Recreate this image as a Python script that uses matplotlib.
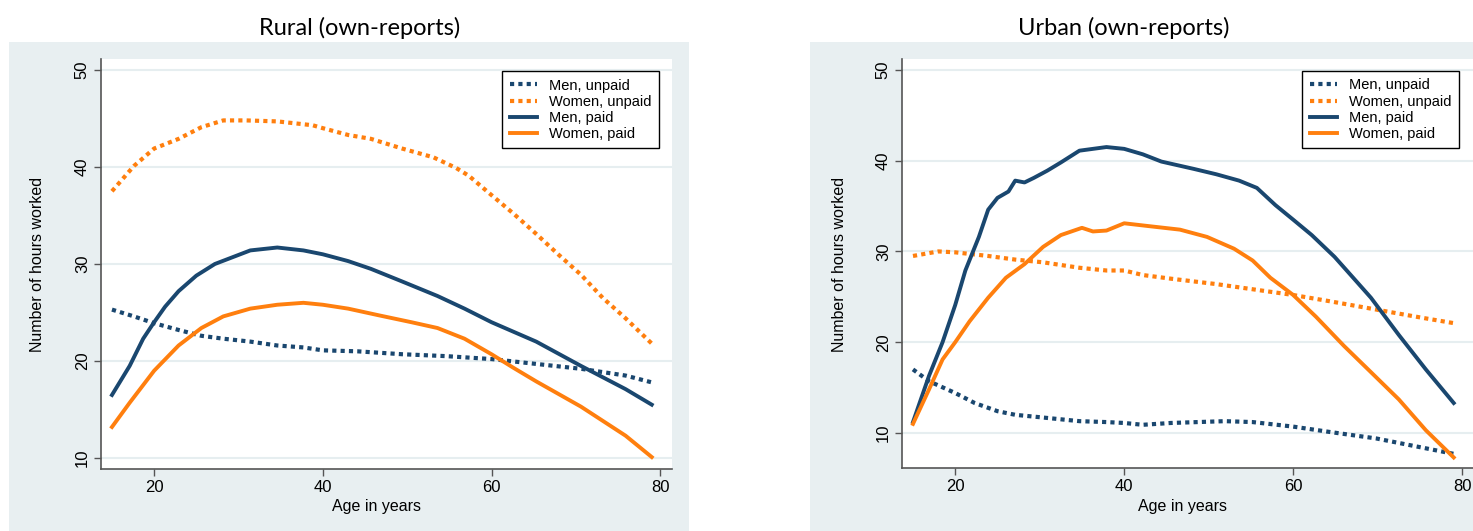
import matplotlib.pyplot as plt
from matplotlib.patches import Rectangle

# colours (Stata s2color look)
navy = '#1a476f'
orange = '#ff7f0e'
panel_bg = '#e8eff1'
grid_col = '#e6eef0'

# ---- Rural (own-reports) ----
rural_age_mu = [15, 17.6, 20, 22.9, 25.6, 28.2, 31.4, 34.6, 37.7, 40, 44.1, 49.4, 54.7, 60, 65.3, 70.6, 75.9, 79]
rural_men_unpaid = [25.3, 24.6, 23.9, 23.2, 22.6, 22.3, 22.0, 21.6, 21.4, 21.1, 21.0, 20.7, 20.5, 20.2, 19.7, 19.2, 18.5, 17.8]

rural_age_wu = [15, 17.6, 20, 22.9, 25.6, 28.2, 30.9, 34.6, 38.8, 40, 43, 45.7, 49.4, 53.1, 55.8, 57.3, 60, 62.6, 65.3, 67.9, 70.6, 73.2, 75.9, 79]
rural_women_unpaid = [37.5, 40.1, 41.9, 42.9, 44.1, 44.8, 44.8, 44.7, 44.3, 44.0, 43.3, 42.9, 41.9, 41.0, 39.9, 39.1, 37.1, 35.2, 33.1, 31.0, 28.9, 26.5, 24.4, 21.8]

rural_age_mp = [15, 17.1, 18.7, 20, 21.3, 22.9, 25, 27.2, 29.3, 31.4, 34.6, 37.7, 40, 43, 45.7, 49.4, 53.6, 56.8, 60, 65.3, 70.6, 75.9, 79]
rural_men_paid = [16.5, 19.5, 22.3, 24.0, 25.6, 27.2, 28.8, 30.0, 30.7, 31.4, 31.7, 31.4, 31.0, 30.3, 29.5, 28.2, 26.7, 25.4, 24.0, 22.0, 19.5, 17.1, 15.5]

rural_age_wp = [15, 17.1, 20, 22.9, 25.6, 28.2, 31.4, 34.6, 37.7, 40, 43, 46.7, 50.5, 53.6, 56.8, 60, 62.6, 65.3, 70.6, 75.9, 79]
rural_women_paid = [13.2, 15.7, 19.0, 21.6, 23.4, 24.6, 25.4, 25.8, 26.0, 25.8, 25.4, 24.7, 24.0, 23.4, 22.3, 20.7, 19.3, 17.9, 15.3, 12.3, 10.1]

# ---- Urban (own-reports) ----
urban_age_mu = [15, 16.9, 20, 22.3, 25, 27.1, 30.4, 34.7, 37.9, 40, 42.2, 45.5, 48.7, 51.9, 55.2, 60, 64.4, 69.8, 75.2, 79]
urban_men_unpaid = [17.0, 15.7, 14.4, 13.3, 12.4, 12.0, 11.7, 11.3, 11.2, 11.1, 10.9, 11.1, 11.2, 11.3, 11.2, 10.7, 10.1, 9.4, 8.4, 7.7]

urban_age_wu = [15, 18, 20, 23.9, 27.1, 30.4, 34.7, 37.9, 40, 42.2, 45.5, 50.9, 56.2, 60, 64.4, 69.8, 75.2, 79]
urban_women_unpaid = [29.5, 30.0, 29.9, 29.5, 29.1, 28.8, 28.2, 27.9, 27.9, 27.4, 27.0, 26.4, 25.7, 25.2, 24.5, 23.6, 22.7, 22.1]

urban_age_mp = [15, 16.9, 18.5, 20, 21.2, 22.8, 23.9, 25, 26.3, 27.1, 28.2, 29.3, 30.9, 32.5, 34.7, 37.9, 40, 42.2, 44.4, 48.2, 50.9, 53.6, 55.7, 57.9, 60, 62.2, 64.9, 67.1, 69.2, 72.5, 75.7, 79]
urban_men_paid = [11.2, 16.3, 20.0, 24.1, 27.9, 31.6, 34.6, 35.9, 36.6, 37.8, 37.6, 38.1, 38.9, 39.8, 41.1, 41.5, 41.3, 40.7, 39.9, 39.1, 38.5, 37.8, 37.0, 35.1, 33.5, 31.8, 29.4, 27.1, 24.9, 20.8, 17.0, 13.3]

urban_age_wp = [15, 16.9, 18.5, 20, 21.7, 23.9, 26, 28.2, 30.4, 32.5, 35, 36.3, 37.9, 40, 42.8, 46.6, 49.8, 53, 55.2, 57.3, 60, 62.7, 66, 69.2, 72.5, 75.7, 79]
urban_women_paid = [11.0, 14.8, 18.1, 20.0, 22.3, 24.9, 27.1, 28.6, 30.5, 31.8, 32.6, 32.2, 32.3, 33.1, 32.8, 32.4, 31.6, 30.3, 29.0, 27.1, 25.2, 22.8, 19.6, 16.7, 13.7, 10.3, 7.3]

series_labels = ['Men, unpaid', 'Women, unpaid', 'Men, paid', 'Women, paid']
x_ticks = [20, 40, 60, 80]
y_ticks = [10, 20, 30, 40, 50]

plt.rcParams['font.family'] = ['Liberation Sans', 'DejaVu Sans']

W, H = 1473, 531
fig = plt.figure(figsize=(W / 100, H / 100), dpi=100)

# grey outer panels
for x0, x1 in [(9, 689), (810, 1473)]:
    fig.patches.append(Rectangle((x0 / W, 0), (x1 - x0) / W, 1 - 42 / H,
                                 transform=fig.transFigure, facecolor=panel_bg,
                                 edgecolor='none', zorder=-1))


def draw_panel(rect, title, title_x, xlab_x, ylab_x, ylim, data, legend_x):
    ax = fig.add_axes(rect)
    ax.set_facecolor('white')
    dot = (0, (1, 1))
    ax.plot(data[0][0], data[0][1], color=navy, lw=3, linestyle=dot, label=series_labels[0])
    ax.plot(data[1][0], data[1][1], color=orange, lw=3, linestyle=dot, label=series_labels[1])
    ax.plot(data[2][0], data[2][1], color=navy, lw=2.8, label=series_labels[2])
    ax.plot(data[3][0], data[3][1], color=orange, lw=2.8, label=series_labels[3])

    ax.set_xlim(13.7, 81.4)
    ax.set_ylim(*ylim)
    ax.set_xticks(x_ticks)
    ax.set_yticks(y_ticks)
    ax.yaxis.grid(True, color=grid_col, lw=1.5)
    ax.set_axisbelow(True)
    for s in ['top', 'right']:
        ax.spines[s].set_visible(False)
    for s in ['left', 'bottom']:
        ax.spines[s].set_color('#555555')
        ax.spines[s].set_linewidth(1.2)
    ax.tick_params(axis='both', direction='out', length=5, width=1, color='#555555',
                   labelsize=12, pad=3)
    for lab in ax.get_yticklabels():
        lab.set_rotation(90)
        lab.set_va('center')

    ax.legend(loc='upper right', bbox_to_anchor=(legend_x, 0.988), fontsize=10.5,
              frameon=True, fancybox=False, edgecolor='black', framealpha=1,
              handlelength=1.9, labelspacing=0.15, borderpad=0.5, handletextpad=0.8)
    ax.get_legend().get_frame().set_linewidth(1)

    fig.text(title_x / W, 1 - 28 / H, title, fontsize=17, family='Lato',
             ha='center', va='center')
    fig.text(xlab_x / W, 1 - 506 / H, 'Age in years', fontsize=11.5,
             ha='center', va='center')
    fig.text(ylab_x / W, 1 - 264 / H, 'Number of hours worked', fontsize=11.5,
             ha='center', va='center', rotation=90)
    return ax


draw_panel([101 / W, 1 - 469 / H, 571 / W, 410 / H], 'Rural (own-reports)',
           360, 377, 38, (8.87, 51.13),
           [(rural_age_mu, rural_men_unpaid), (rural_age_wu, rural_women_unpaid),
            (rural_age_mp, rural_men_paid), (rural_age_wp, rural_women_paid)],
           0.9895)

draw_panel([902 / W, 1 - 468 / H, 572 / W, 409 / H], 'Urban (own-reports)',
           1124, 1182, 839, (6.14, 51.2),
           [(urban_age_mu, urban_men_unpaid), (urban_age_wu, urban_women_unpaid),
            (urban_age_mp, urban_men_paid), (urban_age_wp, urban_women_paid)],
           0.986)

fig.savefig('out.png', dpi=100)
